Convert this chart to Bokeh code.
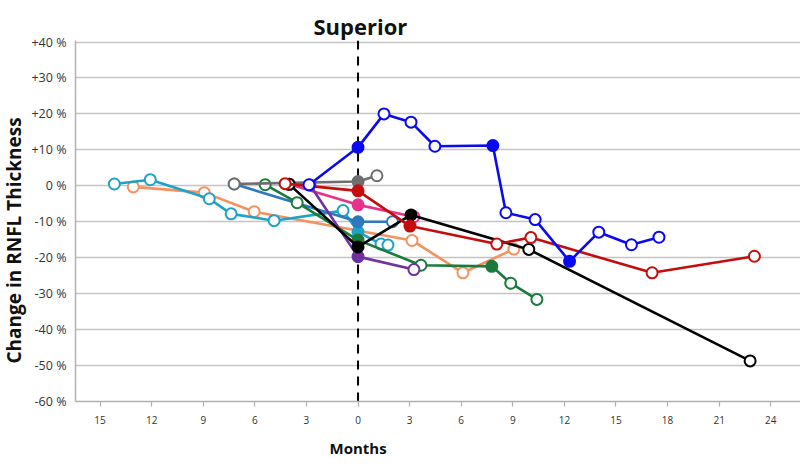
from bokeh.plotting import figure
from bokeh.models import FixedTicker, CustomJSTickFormatter, Span, Title, Range1d
from bokeh.embed import file_html
from bokeh.resources import INLINE

# ---- data (months relative to event; % change in RNFL thickness) ----
month_ticks = [-15, -12, -9, -6, -3, 0, 3, 6, 9, 12, 15, 18, 21, 24]
pct_ticks = [-60, -50, -40, -30, -20, -10, 0, 10, 20, 30, 40]

orange_x = [-13.07, -8.94, -6.04, 3.14, 6.1, 9.06]
orange_y = [-0.3, -1.9, -7.2, -15.2, -24.2, -17.6]
orange_f = [0, 0, 0, 0, 0, 0]

cyan_x = [-14.17, -12.08, -8.65, -7.38, -4.88, -0.87, 0.0, 1.34, 1.74]
cyan_y = [0.5, 1.7, -3.6, -7.8, -9.7, -6.9, -12.8, -16.2, -16.5]
cyan_f = [0, 0, 0, 0, 0, 0, 1, 0, 0]

steel_x = [-7.2, 0.0, 2.0]
steel_y = [0.5, -10.0, -10.0]
steel_f = [0, 1, 0]

green_x = [-5.4, -3.54, 0.0, 3.66, 7.78, 8.88, 10.4]
green_y = [0.3, -4.7, -15.1, -22.1, -22.4, -27.1, -31.6]
green_f = [0, 0, 1, 0, 1, 0, 0]

gray_x = [-7.2, 0.0, 1.1]
gray_y = [0.5, 1.2, 2.8]
gray_f = [0, 1, 0]

pink_x = [-4.0, 0.0, 3.25]
pink_y = [0.4, -5.3, -8.6]
pink_f = [0, 1, 0]

purple_x = [-2.8, 0.0, 3.25]
purple_y = [0.2, -19.7, -23.3]
purple_f = [0, 1, 0]

black_x = [-4.0, 0.0, 3.08, 9.93, 22.8]
black_y = [0.4, -17.0, -8.1, -17.7, -48.7]
black_f = [0, 1, 1, 0, 0]

red_x = [-4.24, 0.0, 3.02, 8.07, 10.05, 17.1, 23.05]
red_y = [0.6, -1.4, -11.2, -16.2, -14.4, -24.2, -19.6]
red_f = [0, 1, 1, 0, 0, 0, 0]

blue_x = [-2.85, 0.0, 1.51, 3.08, 4.47, 7.84, 8.6, 10.3, 12.3, 14.0, 15.9, 17.5]
blue_y = [0.3, 10.7, 20.0, 17.7, 11.0, 11.2, -7.5, -9.4, -21.0, -12.9, -16.4, -14.3]
blue_f = [0, 1, 0, 0, 0, 1, 0, 0, 1, 0, 0, 0]

series = [
    (orange_x, orange_y, orange_f, "#f4915f"),
    (cyan_x, cyan_y, cyan_f, "#1ea3c6"),
    (steel_x, steel_y, steel_f, "#2e78bd"),
    (green_x, green_y, green_f, "#1b7b3d"),
    (gray_x, gray_y, gray_f, "#6e6e6e"),
    (pink_x, pink_y, pink_f, "#e5338c"),
    (purple_x, purple_y, purple_f, "#6f32a0"),
    (black_x, black_y, black_f, "#000000"),
    (red_x, red_y, red_f, "#c40d0d"),
    (blue_x, blue_y, blue_f, "#0a0aee"),
]

FONT = "Open Sans"

p = figure(width=800, height=466, output_backend="svg", toolbar_location=None,
           x_range=Range1d(-16.43, 25.73), y_range=Range1d(-60, 40.42),
           min_border_left=74, min_border_right=0, min_border_top=40,
           min_border_bottom=65)
p.outline_line_color = None
p.background_fill_color = "white"

p.title.text = "Superior"
p.title.align = "left"
p.title.offset = 238
p.title.standoff = 0
p.title.text_font = FONT
p.title.text_font_size = "22px"
p.title.text_font_style = "bold"
p.title.text_color = "#111111"

p.xgrid.grid_line_color = None
p.ygrid.grid_line_color = "#c4c4c4"
p.ygrid.grid_line_width = 1.6

p.xaxis.ticker = FixedTicker(ticks=month_ticks)
p.xaxis.formatter = CustomJSTickFormatter(code="return String(Math.abs(tick));")
p.xaxis.axis_line_color = "#b0b0b0"
p.xaxis.axis_line_width = 1.5
p.xaxis.major_tick_line_color = "#b0b0b0"
p.xaxis.major_tick_line_width = 1.2
p.xaxis.major_tick_in = 0
p.xaxis.major_tick_out = 5
p.xaxis.minor_tick_line_color = None
p.xaxis.major_label_text_font = FONT
p.xaxis.major_label_text_font_size = "10px"
p.xaxis.major_label_text_color = "#333333"
p.xaxis.major_label_standoff = 9

p.yaxis.ticker = FixedTicker(ticks=pct_ticks)
p.yaxis.formatter = CustomJSTickFormatter(code="return (tick > 0 ? '+' : '') + tick + ' %';")
p.yaxis.axis_line_color = "#b0b0b0"
p.yaxis.axis_line_width = 1.5
p.yaxis.major_tick_line_color = None
p.yaxis.minor_tick_line_color = None
p.yaxis.major_label_text_font = FONT
p.yaxis.major_label_text_font_size = "12.5px"
p.yaxis.major_label_text_color = "#333333"
p.yaxis.major_label_standoff = 3

ylab = Title(text="Change in RNFL Thickness", align="left", offset=38, standoff=0,
             vertical_align="top",
             text_font=FONT, text_font_size="19px", text_font_style="bold",
             text_color="#111111")
p.add_layout(ylab, "left")

months = Title(text="Months", align="left", offset=254, standoff=18, text_font=FONT,
               text_font_size="15px", text_font_style="bold", text_color="#111111")
p.add_layout(months, "below")

vline = Span(location=0, dimension="height", line_color="black", line_width=2,
             line_dash="9 7", level="underlay")
p.add_layout(vline)

for xs, ys, fs, col in series:
    p.line(xs, ys, line_color=col, line_width=2.6)
    fills = [col if f else "white" for f in fs]
    p.scatter(xs, ys, size=11, marker="circle", line_color=col, line_width=2,
              fill_color=fills)

open("out.html", "w").write(file_html(p, INLINE))
